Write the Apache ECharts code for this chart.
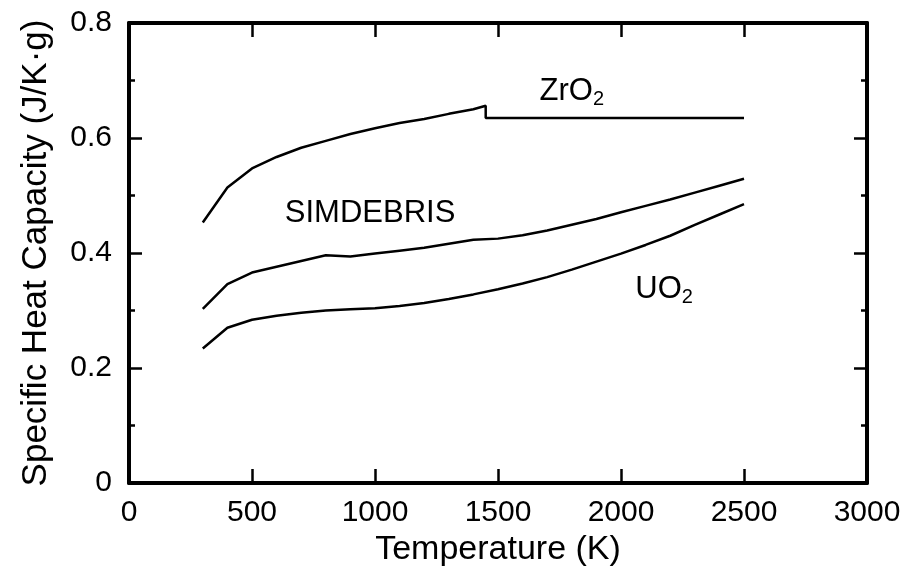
<!DOCTYPE html>
<html>
<head>
<meta charset="utf-8">
<script src="https://cdn.jsdelivr.net/npm/echarts@6.0.0/dist/echarts.min.js"></script>
</head>
<body style="margin:0;background:#fff;">
<div id="chart" style="width:906px;height:576px;"></div>
<script type="text/javascript">
// temperature (K) and specific heat (J/K·g)
var zrT  = [300, 400, 500, 600, 700, 800, 900, 1000, 1100, 1200, 1300, 1400, 1450, 1450, 2500];
var zrCp = [0.453, 0.514, 0.547, 0.567, 0.583, 0.595, 0.607, 0.617, 0.626, 0.633, 0.642, 0.650, 0.656, 0.635, 0.635];

var simT  = [300, 400, 500, 600, 700, 800, 900, 1000, 1100, 1200, 1300, 1400, 1500, 1600, 1700, 1800, 1900, 2000, 2100, 2200, 2300, 2400, 2500];
var simCp = [0.303, 0.346, 0.366, 0.376, 0.386, 0.396, 0.394, 0.399, 0.404, 0.409, 0.416, 0.423, 0.425, 0.431, 0.439, 0.449, 0.459, 0.471, 0.482, 0.493, 0.505, 0.517, 0.529];

var uoT  = [300, 400, 500, 600, 700, 800, 900, 1000, 1100, 1200, 1300, 1400, 1500, 1600, 1700, 1800, 1900, 2000, 2100, 2200, 2300, 2400, 2500];
var uoCp = [0.234, 0.270, 0.284, 0.291, 0.296, 0.300, 0.302, 0.304, 0.308, 0.313, 0.320, 0.328, 0.337, 0.347, 0.358, 0.371, 0.385, 0.399, 0.414, 0.430, 0.449, 0.467, 0.485];

var xTicks = ['0', '500', '1000', '1500', '2000', '2500', '3000'];
var yTicks = ['0', '0.2', '0.4', '0.6', '0.8'];

// where the curve names sit, in data units
var names = [
    {text: '{a|ZrO}{b|2}', at: [1800, 0.678]},
    {text: '{a|SIMDEBRIS}', at: [980, 0.466]},
    {text: '{a|UO}{b|2}', at: [2175, 0.333]}
];

function pairs(xs, ys) {
    var out = [];
    for (var i = 0; i < xs.length; i++) out.push([xs[i], ys[i]]);
    return out;
}

var font = "'Liberation Sans', Arial, sans-serif";

var myChart = echarts.init(document.getElementById('chart'));

function lineSeries(xs, ys, nm) {
    return {
        type: 'line',
        data: pairs(xs, ys),
        showSymbol: false,
        symbol: 'none',
        lineStyle: {color: '#000', width: 2.5},
        silent: true,
        markPoint: {
            symbol: 'circle',
            symbolSize: 0,
            silent: true,
            label: {
                show: true,
                position: 'inside',
                formatter: nm.text,
                rich: {
                    // extra bottom room on the main text lets the subscript drop below its baseline
                    a: {fontFamily: font, fontSize: 31, color: '#000', lineHeight: 32, padding: [0, 0, 4, 0]},
                    b: {fontFamily: font, fontSize: 20, color: '#000', lineHeight: 20, verticalAlign: 'bottom'}
                }
            },
            data: [{coord: nm.at}]
        }
    };
}

var tickX = {show: true, inside: true, length: 14, lineStyle: {color: '#000', width: 2.5}};
var tickY = {show: true, inside: true, length: 13, lineStyle: {color: '#000', width: 2.5}};
var minorY = {show: true, splitNumber: 2, length: 6, lineStyle: {color: '#000', width: 2.5}};
var axLine = {show: true, onZero: false, lineStyle: {color: '#000', width: 4}};

option = {
    animation: false,
    backgroundColor: '#fff',
    grid: {left: 129, right: 39, top: 23, bottom: 93},
    xAxis: [
        {
            type: 'value', min: 0, max: 3000, interval: 500, position: 'bottom',
            axisLine: axLine, axisTick: tickX, splitLine: {show: false},
            axisLabel: {
                margin: 15, color: '#000', fontFamily: font, fontSize: 30,
                formatter: function (v) { return xTicks[Math.round(v / 500)]; }
            },
            name: 'Temperature (K)', nameLocation: 'middle', nameGap: 46,
            nameTextStyle: {color: '#000', fontFamily: font, fontSize: 34}
        },
        {
            type: 'value', min: 0, max: 3000, interval: 500, position: 'top',
            axisLine: axLine, axisTick: tickX, splitLine: {show: false},
            axisLabel: {show: false}
        }
    ],
    yAxis: [
        {
            type: 'value', min: 0, max: 0.8, interval: 0.2, position: 'left',
            axisLine: axLine, axisTick: tickY, minorTick: minorY, splitLine: {show: false},
            axisLabel: {
                margin: 17, color: '#000', fontFamily: font, fontSize: 30,
                formatter: function (v) { return yTicks[Math.round(v / 0.2)]; }
            },
            name: 'Specific Heat Capacity (J/K\u00b7g)', nameLocation: 'middle', nameGap: 75,
            nameTextStyle: {color: '#000', fontFamily: font, fontSize: 35}
        },
        {
            type: 'value', min: 0, max: 0.8, interval: 0.2, position: 'right',
            axisLine: axLine, axisTick: tickY, minorTick: minorY, splitLine: {show: false},
            axisLabel: {show: false}
        }
    ],
    series: [
        lineSeries(zrT, zrCp, names[0]),
        lineSeries(simT, simCp, names[1]),
        lineSeries(uoT, uoCp, names[2])
    ]
};

myChart.setOption(option);
</script>
</body>
</html>
